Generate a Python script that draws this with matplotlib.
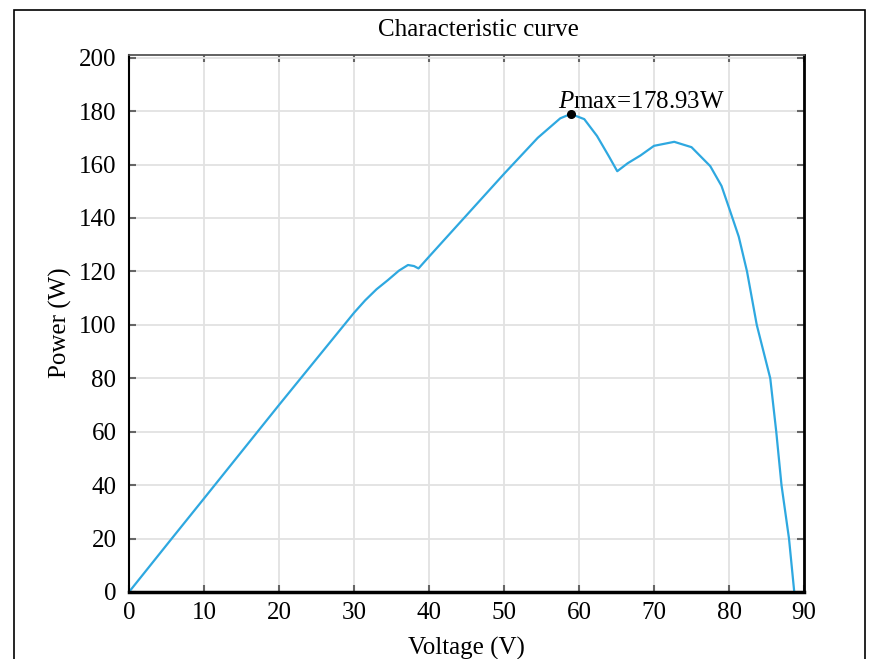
import matplotlib
matplotlib.use("Agg")
import matplotlib.pyplot as plt
from matplotlib.patches import Rectangle

plt.rcParams['font.family'] = ['Liberation Serif', 'DejaVu Serif']
plt.rcParams['mathtext.fontset'] = 'custom'
plt.rcParams['mathtext.rm'] = 'Liberation Serif'
plt.rcParams['mathtext.it'] = 'Liberation Serif:italic'

voltage = [0, 5.7, 10, 20, 30, 31.5, 33, 34.5, 36, 37.2, 38.0, 38.6, 40.0, 45, 50,
           54.5, 57.5, 58.9, 60.7, 62.4, 64, 65.1, 66.5, 68.2, 70.0, 72.7, 75.0,
           77.5, 79, 80.1, 81.3, 82.4, 83.7, 84.6, 85.5, 86.3, 87.0, 88.0, 88.7]
power = [0, 20, 35, 70, 104.5, 109.2, 113.3, 116.7, 120.3, 122.4, 122.0, 121.1, 125.5, 141, 156.5,
         170, 177.3, 178.93, 177, 170.7, 163, 157.5, 160.5, 163.4, 167, 168.5, 166.5,
         159.4, 152, 143, 133, 120, 100, 90, 80, 60, 40, 20, 0]
pmax_v = 58.9
pmax_p = 178.93
xticks = list(range(0, 91, 10))
yticks = list(range(0, 201, 20))

fs = 18
fig = plt.figure(figsize=(8.76, 6.59), dpi=100)
ax = fig.add_axes([129/876, 1-592/659, (804-129)/876, (592-55)/659])

ax.plot(voltage, power, color='#2ea8e0', lw=1.6, solid_joinstyle='round')
ax.plot([pmax_v], [pmax_p], 'o', color='black', ms=5.5)
ax.text(57.2, 179.3, r'$\mathit{P}$max=178.93W', fontsize=fs, ha='left', va='bottom')

ax.set_xlim(0, 90)
ax.set_ylim(0, 201)
ax.set_xticks(xticks)
ax.set_yticks(yticks)
ax.grid(True, color='#e2e2e2', lw=1.3)
ax.set_axisbelow(True)
ax.tick_params(direction='in', length=5, width=1.5, color='#666666',
               labelsize=fs, top=True, right=True, pad=7)
ax.tick_params(axis='y', pad=9)

for s in ['left', 'right']:
    ax.spines[s].set_color('black')
    ax.spines[s].set_linewidth(1.5)
ax.spines['bottom'].set_color('black')
ax.spines['bottom'].set_linewidth(2.5)
ax.spines['right'].set_linewidth(2)
ax.spines['top'].set_color('#555555')
ax.spines['top'].set_linewidth(1.3)

fig.text(478/876, 1-30/659, 'Characteristic curve', fontsize=fs, ha='center', va='center')
fig.text(466/876, 1-648/659, 'Voltage (V)', fontsize=fs, ha='center', va='center')
fig.text(60/876, 1-323/659, 'Power (W)', fontsize=fs, ha='center', va='center', rotation=90)

fig.patches.append(Rectangle((13.5/876, -0.05), (865-13.5)/876, 1.05 - 10/659,
                             transform=fig.transFigure, fill=False,
                             edgecolor='black', lw=1.2))

fig.savefig('out.png', dpi=100)
